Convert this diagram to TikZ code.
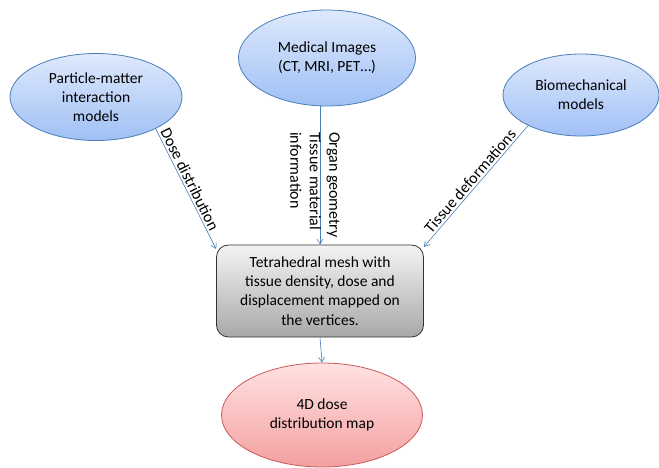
\documentclass[tikz,border=0pt]{standalone}
\usepackage{fontspec}
\setmainfont{Carlito}
\usetikzlibrary{shapes.geometric,arrows.meta}
\definecolor{bluetop}{RGB}{222,233,252}
\definecolor{bluebot}{RGB}{160,192,245}
\definecolor{blueline}{RGB}{74,126,187}
\definecolor{graytop}{RGB}{244,244,244}
\definecolor{graybot}{RGB}{168,168,168}
\definecolor{redtop}{RGB}{255,226,226}
\definecolor{redbot}{RGB}{244,160,160}
\definecolor{redline}{RGB}{200,90,90}
\tikzset{
  txt/.style={font=\fontsize{15.5}{19.3}\selectfont, align=center, text=black},
  blueell/.style={txt, ellipse, draw=blueline, line width=0.8pt, top color=bluetop, bottom color=bluebot, inner sep=0pt},
  redell/.style={txt, ellipse, draw=redline, line width=0.8pt, top color=redtop, bottom color=redbot, inner sep=0pt},
  graybox/.style={txt, rectangle, rounded corners=12pt, draw=black!80, line width=0.8pt, top color=graytop, bottom color=graybot, inner sep=0pt},
  arr/.style={draw=blueline, line width=0.6pt, -{Straight Barb[length=5pt,width=6pt]}},
  lbl/.style={font=\fontsize{16}{19.5}\selectfont, text=black, inner sep=2pt},
}
\begin{document}
\begin{tikzpicture}[x=1pt,y=-1pt]
\useasboundingbox (0,0) rectangle (659,468);
\node[blueell, minimum width=172pt, minimum height=87pt] (pm) at (96,97) {Particle-matter\\interaction\\models};
\node[blueell, minimum width=177pt, minimum height=96pt] (med) at (327,58) {Medical Images\\(CT, MRI, PET\ldots)};
\node[blueell, minimum width=156pt, minimum height=82pt] (bio) at (581,95) {Biomechanical\\models};
\node[graybox, minimum width=207pt, minimum height=92pt] (mesh) at (320,291) {Tetrahedral mesh with\\tissue density, dose and\\displacement mapped on\\the vertices.};
\node[redell, minimum width=201pt, minimum height=104pt] (red) at (322,415) {4D dose\\distribution map};
\draw[arr] (pm.-28) -- node[lbl, sloped, above, pos=0.45] {Dose distribution} (mesh.158);
\draw[arr] (med.south -| mesh.north) -- (mesh.north);
\node[lbl, rotate=-90, anchor=west, align=left] (medlbl) at (315,130) {Organ geometry\\Tissue material\\information};
\draw[arr] (bio.210) -- node[lbl, sloped, above, pos=0.5] {Tissue deformations} (mesh.23);
\draw[arr] (mesh.south) -- (red.north);
\end{tikzpicture}
\end{document}
